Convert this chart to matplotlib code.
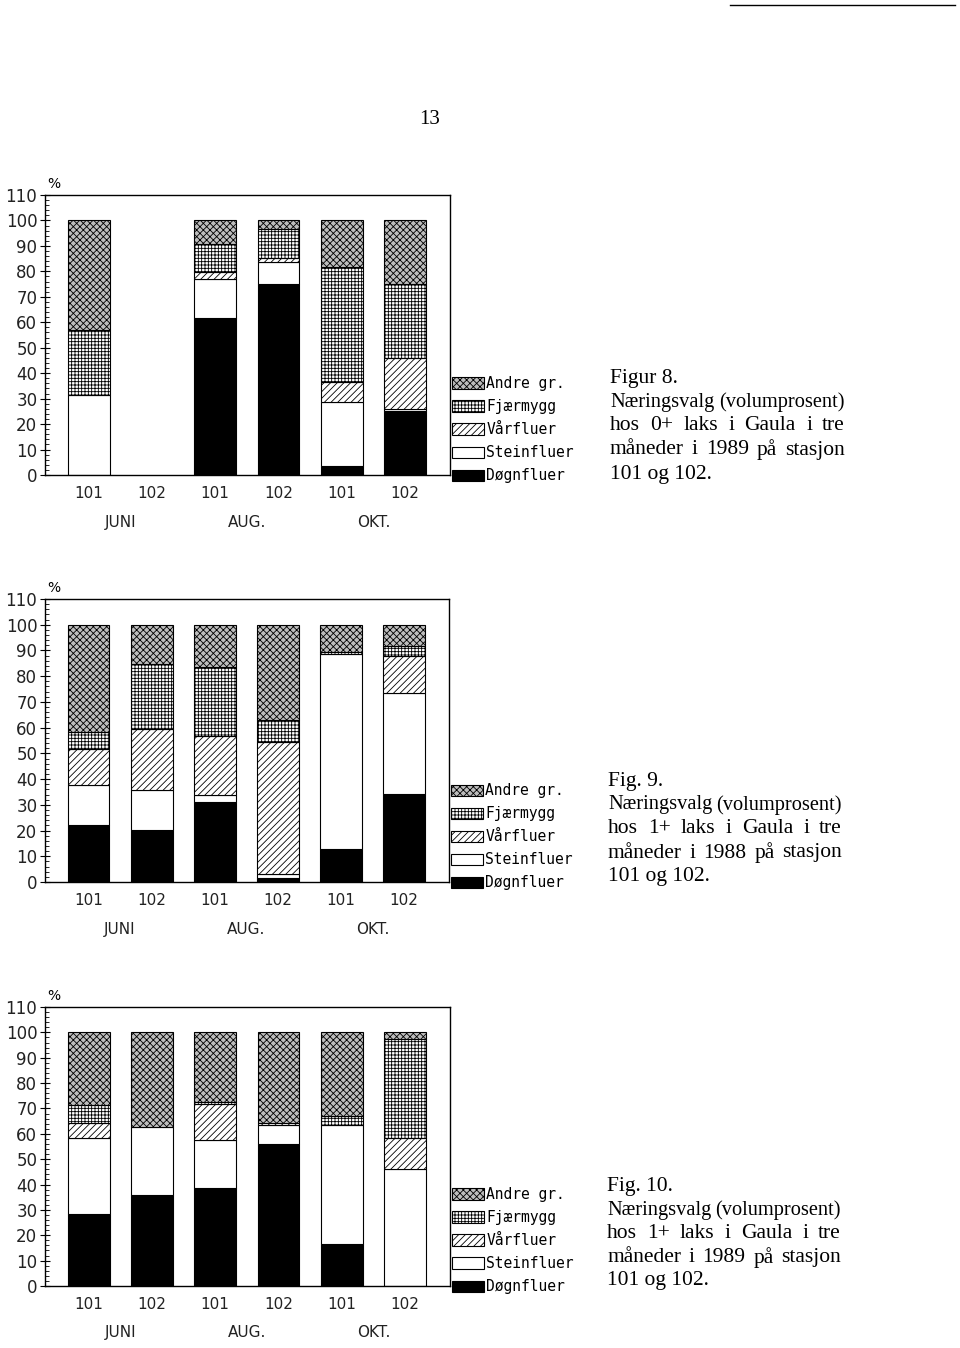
import matplotlib
matplotlib.use("Agg")
import matplotlib.pyplot as plt
from matplotlib.patches import Patch
import numpy as np

# stations and months (x categories)
stations = ["101", "102", "101", "102", "101", "102"]
months = ["JUNI", "AUG.", "OKT."]
groups = ["Døgnfluer", "Steinfluer", "Vårfluer", "Fjærmygg", "Andre gr."]

# Fig. 8 - 0+ laks 1989 (volume %)
fig8_dogn = [0, 0, 61.7, 74.9, 3.7, 25.2]
fig8_stein = [31.6, 0, 15.2, 8.8, 24.8, 0.9]
fig8_var = [0, 0, 2.8, 1.5, 8.0, 19.9]
fig8_fjaer = [25.3, 0, 10.9, 11.3, 45.3, 28.9]
fig8_andre = [43.1, 0, 9.4, 3.5, 18.2, 25.1]

# Fig. 9 - 1+ laks 1988
fig9_dogn = [22.0, 20.1, 31.1, 1.6, 12.7, 34.1]
fig9_stein = [15.8, 15.8, 2.8, 1.6, 76.0, 39.3]
fig9_var = [14.0, 23.7, 23.0, 51.2, 0, 14.6]
fig9_fjaer = [6.5, 25.0, 26.6, 8.4, 0.7, 3.8]
fig9_andre = [41.7, 15.4, 16.5, 37.2, 10.6, 8.2]

# Fig. 10 - 1+ laks 1989
fig10_dogn = [28.3, 35.9, 38.6, 55.8, 16.6, 0]
fig10_stein = [29.9, 26.9, 18.9, 7.8, 47.0, 46.1]
fig10_var = [6.2, 0, 14.1, 0.8, 0, 12.1]
fig10_fjaer = [6.9, 0, 1.0, 0, 3.4, 39.2]
fig10_andre = [28.7, 37.2, 27.4, 35.6, 33.0, 2.6]

captions = [
    ["Figur 8.", "Næringsvalg (volumprosent)", "hos 0+ laks i Gaula i tre",
     "måneder i 1989 på stasjon", "101 og 102."],
    ["Fig. 9.", "Næringsvalg (volumprosent)", "hos 1+ laks i Gaula i tre",
     "måneder i 1988 på stasjon", "101 og 102."],
    ["Fig. 10.", "Næringsvalg (volumprosent)", "hos 1+ laks i Gaula i tre",
     "måneder i 1989 på stasjon", "101 og 102."],
]

styles = [
    dict(facecolor="black", hatch=None),
    dict(facecolor="white", hatch=None),
    dict(facecolor="white", hatch="/////"),
    dict(facecolor="white", hatch="+++++"),
    dict(facecolor="#bdbdbd", hatch="xxxxx"),
]

plt.rcParams["hatch.linewidth"] = 0.6
plt.rcParams["font.family"] = "DejaVu Sans"

W, H = 960, 1348
FS = 15.5
fig = plt.figure(figsize=(W / 100, H / 100), dpi=100)


def px_axes(left, top, right, bottom):
    return fig.add_axes([left / W, 1 - bottom / H, (right - left) / W, (bottom - top) / H])


def draw_chart(ax, series):
    x = np.arange(len(stations))
    bottom = np.zeros(len(stations))
    for vals, st in zip(series, styles):
        vals = np.array(vals, dtype=float)
        edges = ["black" if v > 0 else "none" for v in vals]
        ax.bar(x, vals, 0.66, bottom=bottom, facecolor=st["facecolor"],
               hatch=st["hatch"], edgecolor=edges, linewidth=0.8)
        bottom += vals
    ax.set_xlim(-0.69, 5.71)
    ax.set_ylim(0, 110)
    ax.set_yticks(range(0, 111, 10))
    ax.set_yticks(range(0, 111, 2), minor=True)
    ax.tick_params(axis="y", which="major", direction="inout", length=7, width=0.8,
                   labelsize=12, pad=2, labelcolor="#222222")
    ax.tick_params(axis="y", which="minor", direction="in", length=3, width=0.6)
    ax.set_xticks(x)
    ax.set_xticklabels(stations)
    ax.tick_params(axis="x", length=0, labelsize=11, pad=8, labelcolor="#222222")
    for s in ax.spines.values():
        s.set_linewidth(1.0)
    for i, m in enumerate(months):
        ax.text(2 * i + 0.5, -0.168, m, transform=ax.get_xaxis_transform(),
                ha="center", va="center", fontsize=11, color="#222222")
    ax.text(0.005, 1.04, "%", transform=ax.transAxes, fontsize=10, ha="left", va="center")
    handles = [Patch(facecolor=st["facecolor"], hatch=st["hatch"], edgecolor="black",
                     linewidth=0.8) for st in styles][::-1]
    ax.legend(handles, groups[::-1], loc="lower left", bbox_to_anchor=(1.005, -0.03),
              frameon=False, prop={"family": "DejaVu Sans Mono", "size": 10.5},
              handlelength=2.2, handleheight=0.85, handletextpad=0.15,
              labelspacing=0.55, borderpad=0, borderaxespad=0)


def justified(lines, x0, x1, y0, dy):
    renderer = fig.canvas.get_renderer()
    for k, line in enumerate(lines):
        y = 1 - (y0 + k * dy) / H
        words = line.split(" ")
        if k in (0, len(lines) - 1) or len(words) == 1:
            fig.text(x0 / W, y, line, family="Liberation Serif", fontsize=FS, va="center")
            continue
        txts = [fig.text(0, y, w_, family="Liberation Serif", fontsize=FS, va="center")
                for w_ in words]
        widths = [t.get_window_extent(renderer).width for t in txts]
        min_gap = 5
        room = x1 - x0 - min_gap * (len(words) - 1)
        if sum(widths) > room:
            scale = room / sum(widths)
            for t in txts:
                t.set_fontsize(FS * scale)
            widths = [t.get_window_extent(renderer).width for t in txts]
        gap = (x1 - x0 - sum(widths)) / (len(words) - 1)
        pos = x0
        for t, w_ in zip(txts, widths):
            t.set_x(pos / W)
            pos += w_ + gap


ax1 = px_axes(45, 195, 450, 475)
draw_chart(ax1, [fig8_dogn, fig8_stein, fig8_var, fig8_fjaer, fig8_andre])
ax2 = px_axes(45, 599, 449, 882)
draw_chart(ax2, [fig9_dogn, fig9_stein, fig9_var, fig9_fjaer, fig9_andre])
ax3 = px_axes(45, 1007, 450, 1286)
draw_chart(ax3, [fig10_dogn, fig10_stein, fig10_var, fig10_fjaer, fig10_andre])

fig.canvas.draw()
justified(captions[0], 610, 845, 378, 24)
justified(captions[1], 608, 842, 781, 24)
justified(captions[2], 607, 841, 1187, 23.5)

fig.text(430 / W, 1 - 120 / H, "13", family="Liberation Serif", fontsize=15,
         ha="center", va="center")
fig.add_artist(plt.Line2D([730 / W, 955 / W], [1 - 5 / H, 1 - 5 / H], color="black", lw=1))

fig.savefig("out.png", dpi=100)
